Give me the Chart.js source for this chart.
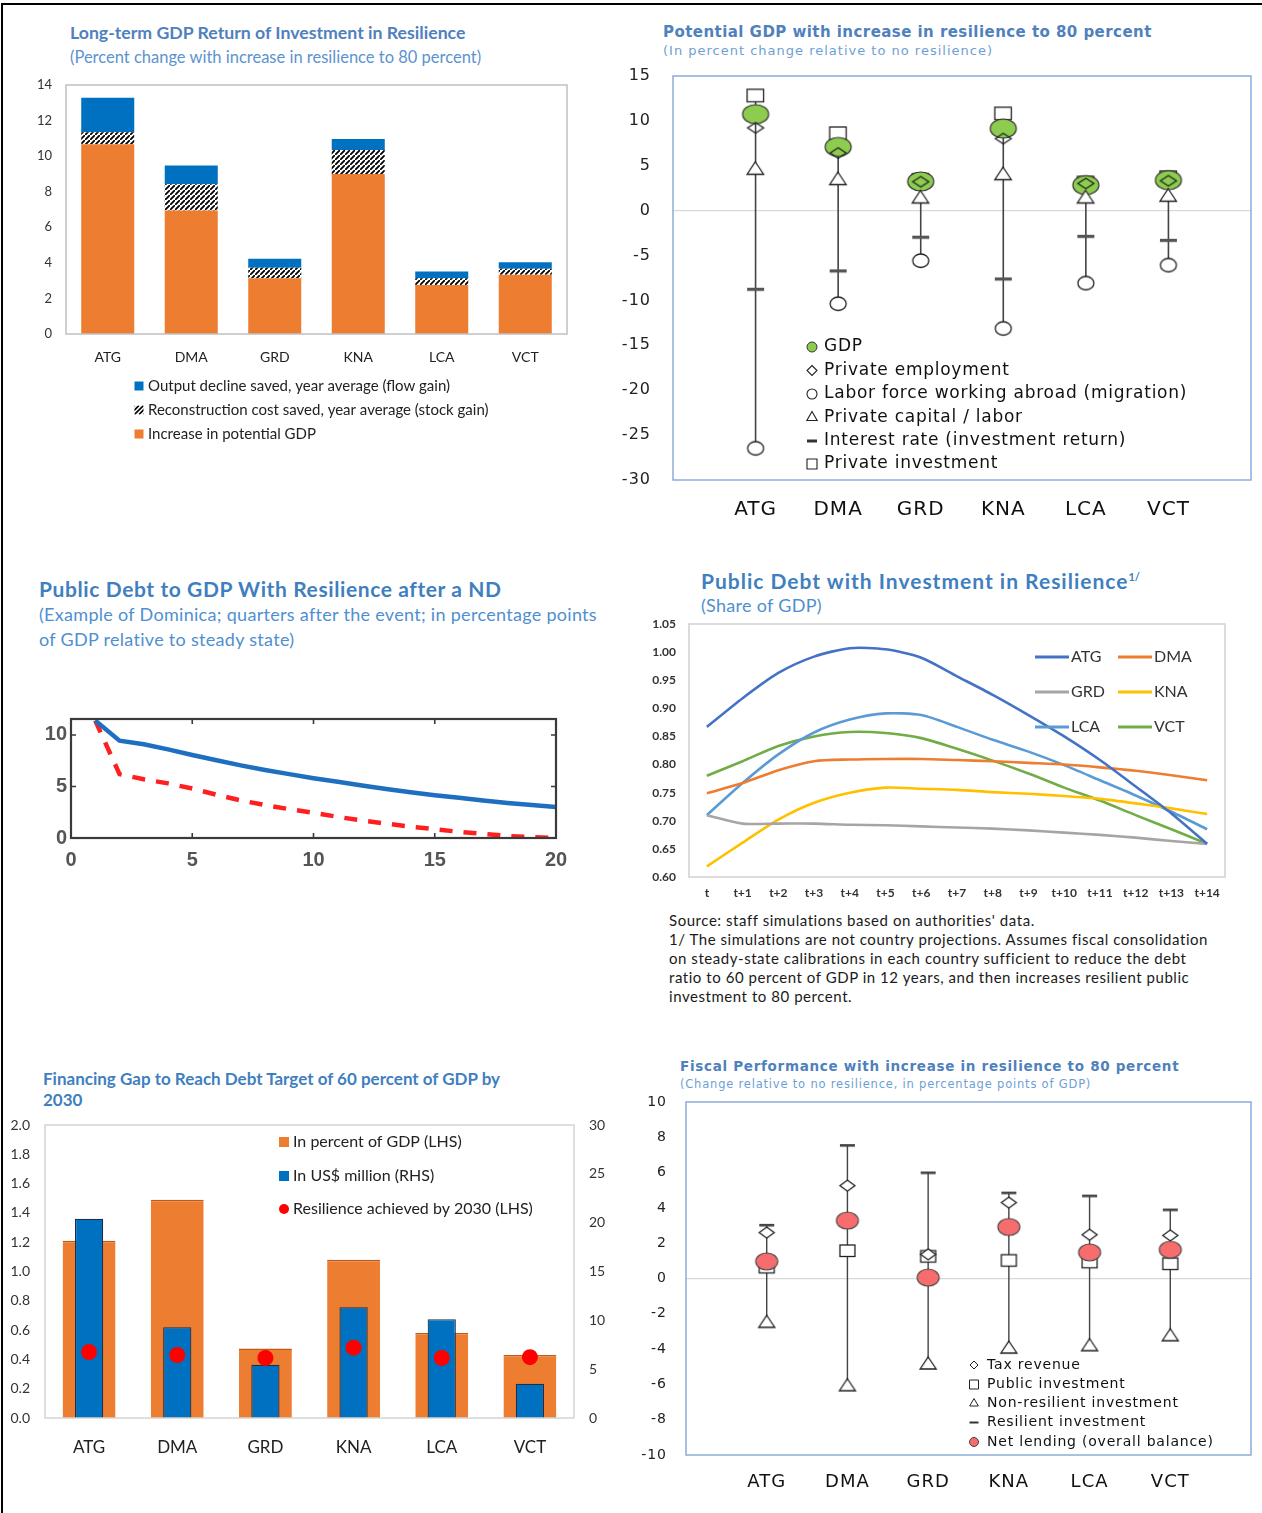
<!DOCTYPE html>
<html><head><meta charset="utf-8">
<title>Resilience charts</title>
<script src="https://cdn.jsdelivr.net/npm/chart.js@4.4.1/dist/chart.umd.min.js"></script>
<style>
html,body{margin:0;padding:0;background:#fff;}
body{width:1262px;height:1513px;position:relative;overflow:hidden;font-family:Lato,sans-serif;}
#frame{position:absolute;left:1px;top:3px;width:1280px;height:1530px;border-left:2px solid #000;border-top:2px solid #000;pointer-events:none;}
canvas{position:absolute;}
.t{position:absolute;white-space:nowrap;margin:0;}
</style></head><body>
<div id="frame"></div>

<div class="t" style="left:70px;top:22px;font:bold 17.7px/22px Lato,sans-serif;color:#4f81bd;">Long-term GDP Return of Investment in Resilience</div>
<div class="t" style="left:70px;top:47px;font:16.5px/20px Lato,sans-serif;color:#5b93cf;">(Percent change with increase in resilience to 80 percent)</div>

<div class="t" style="left:663px;top:23px;font:bold 15px/18px 'DejaVu Sans',sans-serif;letter-spacing:0.45px;color:#4f81bd;">Potential GDP with increase in resilience to 80 percent</div>
<div class="t" style="left:663px;top:43px;font:13px/16px 'DejaVu Sans',sans-serif;letter-spacing:1px;color:#6e9fd3;">(In percent change relative to no resilience)</div>

<div class="t" style="left:39px;top:576px;font:bold 21px/26px Lato,sans-serif;letter-spacing:0.6px;color:#3f7fc0;">Public Debt to GDP With Resilience after a ND</div>
<div class="t" style="left:39px;top:602px;font:18px/25px Lato,sans-serif;letter-spacing:0.3px;color:#4f8fd0;">(Example of Dominica; quarters after the event; in percentage points<br>of GDP relative to steady state)</div>

<div class="t" style="left:701px;top:568px;font:bold 21px/26px Lato,sans-serif;letter-spacing:1px;color:#3f7fc0;">Public Debt with Investment in Resilience<span style="font-size:11px;position:relative;top:-8px;letter-spacing:0;">1/</span></div>
<div class="t" style="left:701px;top:594px;font:18px/22px Lato,sans-serif;letter-spacing:0.3px;color:#4f8fd0;">(Share of GDP)</div>
<div class="t" style="left:669px;top:911px;font:15px/19px Lato,sans-serif;letter-spacing:0.55px;color:#1a1a1a;">Source: staff simulations based on authorities' data.<br>1/ The simulations are not country projections. Assumes fiscal consolidation<br>on steady-state calibrations in each country sufficient to reduce the debt<br>ratio to 60 percent of GDP in 12 years, and then increases resilient public<br>investment to 80 percent.</div>

<div class="t" style="left:43px;top:1068px;font:bold 17px/21px Lato,sans-serif;color:#3f7fc0;">Financing Gap to Reach Debt Target of 60 percent of GDP by<br>2030</div>

<div class="t" style="left:680px;top:1058px;font:bold 13.5px/17px 'DejaVu Sans',sans-serif;letter-spacing:0.7px;color:#4f81bd;">Fiscal Performance with increase in resilience to 80 percent</div>
<div class="t" style="left:680px;top:1077px;font:11.5px/14px 'DejaVu Sans',sans-serif;letter-spacing:0.8px;color:#6e9fd3;">(Change relative to no resilience, in percentage points of GDP)</div>

<script>
// ---------------- DATA ----------------
const countries = ['ATG','DMA','GRD','KNA','LCA','VCT'];

// Chart 1: Long-term GDP return (percent)
const increasePotentialGDP = [10.67, 6.94, 3.13, 9.00, 2.75, 3.33];
const reconstructionCostSaved = [0.67, 1.48, 0.60, 1.35, 0.39, 0.34];
const outputDeclineSaved = [1.95, 1.05, 0.50, 0.62, 0.37, 0.37];
const returnTicks = [0, 2, 4, 6, 8, 10, 12, 14];

// Chart 2: Potential GDP with increase in resilience (percent change)
const potGDP = [10.75, 7.1, 3.25, 9.15, 2.85, 3.4];
const privateEmployment = [9.2, 6.4, 3.2, 8.0, 3.0, 3.3];
const laborAbroad = [-26.5, -10.4, -5.6, -13.15, -8.1, -6.1];
const capitalPerLabor = [4.5, 3.35, 1.3, 3.9, 1.3, 1.5];
const interestRate = [-8.75, -6.7, -2.95, -7.6, -2.85, -3.3];
const privateInvestment = [12.8, 8.6, 3.4, 10.8, 3.1, 3.7];
const potTicks = [-30, -25, -20, -15, -10, -5, 0, 5, 10, 15];

// Chart 3: Dominica public debt after a ND (quarters)
const quarters = [1, 2, 3, 4, 5, 6, 7, 8, 9, 10, 11, 12, 13, 14, 15, 16, 17, 18, 19, 20];
const debtNoResilience = [11.4, 9.45, 9.1, 8.6, 8.05, 7.55, 7.05, 6.6, 6.2, 5.8, 5.45, 5.1, 4.75, 4.45, 4.15, 3.9, 3.65, 3.4, 3.2, 3.0];
const debtWithResilience = [11.4, 6.2, 5.7, 5.3, 4.8, 4.2, 3.65, 3.2, 2.8, 2.45, 2.05, 1.7, 1.4, 1.1, 0.85, 0.6, 0.4, 0.2, 0.08, 0.0];
const quarterTicks = [0, 5, 10, 15, 20];
const ndTicks = [0, 5, 10];

// Chart 4: Public debt with investment in resilience (share of GDP)
const periods = ['t','t+1','t+2','t+3','t+4','t+5','t+6','t+7','t+8','t+9','t+10','t+11','t+12','t+13','t+14'];
const debtATG = [0.867, 0.918, 0.963, 0.992, 1.007, 1.005, 0.990, 0.957, 0.924, 0.888, 0.850, 0.808, 0.761, 0.713, 0.659];
const debtDMA = [0.749, 0.767, 0.790, 0.806, 0.809, 0.810, 0.810, 0.808, 0.806, 0.803, 0.800, 0.795, 0.789, 0.781, 0.772];
const debtGRD = [0.710, 0.695, 0.695, 0.695, 0.693, 0.692, 0.690, 0.688, 0.686, 0.683, 0.679, 0.675, 0.670, 0.664, 0.659];
const debtKNA = [0.619, 0.661, 0.702, 0.732, 0.750, 0.759, 0.757, 0.755, 0.751, 0.748, 0.744, 0.739, 0.731, 0.722, 0.712];
const debtLCA = [0.710, 0.767, 0.818, 0.857, 0.880, 0.891, 0.888, 0.867, 0.844, 0.823, 0.799, 0.772, 0.745, 0.716, 0.685];
const debtVCT = [0.780, 0.806, 0.833, 0.850, 0.858, 0.856, 0.847, 0.828, 0.807, 0.784, 0.759, 0.736, 0.710, 0.685, 0.659];
const shareTicks = [0.60, 0.65, 0.70, 0.75, 0.80, 0.85, 0.90, 0.95, 1.00, 1.05];

// Chart 5: Financing gap
const gapPctGDP = [1.21, 1.49, 0.475, 1.08, 0.58, 0.43];
const gapUSDm = [20.4, 9.3, 5.45, 11.35, 10.1, 3.5];
const resilience2030 = [0.45, 0.43, 0.41, 0.48, 0.41, 0.415];
const gapLTicks = [0, 0.2, 0.4, 0.6, 0.8, 1.0, 1.2, 1.4, 1.6, 1.8, 2.0];
const gapRTicks = [0, 5, 10, 15, 20, 25, 30];

// Chart 6: Fiscal performance (pp of GDP)
const taxRevenue = [2.6, 5.26, 1.37, 4.3, 2.48, 2.44];
const publicInvestment = [0.63, 1.56, 1.24, 1.01, 0.92, 0.82];
const nonResilientInv = [-2.54, -6.13, -4.9, -4.0, -3.86, -3.3];
const resilientInv = [3.01, 7.53, 5.98, 4.84, 4.67, 3.88];
const netLending = [0.97, 3.28, 0.05, 2.92, 1.48, 1.63];
const fiscalTicks = [-10, -8, -6, -4, -2, 0, 2, 4, 6, 8, 10];

// ---------------- HELPERS ----------------
Chart.defaults.animation = false;
Chart.defaults.responsive = false;
Chart.defaults.maintainAspectRatio = false;
Chart.defaults.plugins.legend.display = false;
Chart.defaults.plugins.tooltip.enabled = false;
Chart.defaults.font.family = 'Lato, sans-serif';
Chart.defaults.color = '#333';

function mk(l, t, w, h) {
  const c = document.createElement('canvas');
  c.width = w; c.height = h;
  c.style.left = l + 'px'; c.style.top = t + 'px';
  c.style.width = w + 'px'; c.style.height = h + 'px';
  document.body.appendChild(c);
  return c;
}
const tickSetter = arr => (ax) => { ax.ticks = arr.map(v => ({ value: v })); };
const fixW = w => s => { s.width = w; s.paddingTop = 0; s.paddingBottom = 0; };
const fixH = h => s => { s.height = h; s.paddingLeft = 0; s.paddingRight = 0; };
const xy = arr => arr.map((v, i) => ({ x: i + 1, y: v }));
function hiLo(list) {
  const out = [];
  countries.forEach((c, i) => {
    const vals = list.map(a => a[i]);
    out.push({ x: i + 1, y: Math.max(...vals) }, { x: i + 1, y: Math.min(...vals) }, { x: i + 1, y: null });
  });
  return out;
}
function hatchPattern() {
  const s = 5;
  const c = document.createElement('canvas'); c.width = s; c.height = s;
  const g = c.getContext('2d');
  g.fillStyle = '#fff'; g.fillRect(0, 0, s, s);
  g.strokeStyle = '#000'; g.lineWidth = 1.8;
  g.beginPath();
  g.moveTo(-1, s + 1); g.lineTo(s + 1, -1);
  g.moveTo(-s - 1, 1); g.lineTo(1, -s - 1);
  g.moveTo(s - 1, 2 * s + 1); g.lineTo(2 * s + 1, s - 1);
  g.stroke();
  return g.createPattern(c, 'repeat');
}
// marker images (the original markers are slightly wider than tall)
function mkMarker(w, h, fn, extraBottom) {
  const p = 2, c = document.createElement('canvas');
  c.width = Math.round(w + 2 * p); c.height = Math.round(h + 2 * p + (extraBottom || 0));
  const g = c.getContext('2d'); g.translate(p, p); fn(g, w, h); return c;
}
const ellipseM = (w, h, fill, stroke, lw) => mkMarker(w, h, g => { g.beginPath(); g.ellipse(w / 2, h / 2, w / 2, h / 2, 0, 0, Math.PI * 2); g.fillStyle = fill; g.fill(); g.lineWidth = lw || 1.1; g.strokeStyle = stroke; g.stroke(); });
const diamondM = (w, h, fill) => mkMarker(w, h, g => { g.beginPath(); g.moveTo(w / 2, 0); g.lineTo(w, h / 2); g.lineTo(w / 2, h); g.lineTo(0, h / 2); g.closePath(); if (fill) { g.fillStyle = fill; g.fill(); } g.lineWidth = 1.3; g.strokeStyle = '#222'; g.stroke(); });
const squareM = (w, h, fill) => mkMarker(w, h, g => { if (fill) { g.fillStyle = fill; g.fillRect(0, 0, w, h); } g.lineWidth = 1.3; g.strokeStyle = '#222'; g.strokeRect(0, 0, w, h); });
const triangleM = (w, h, fill) => mkMarker(w, h, g => { g.beginPath(); g.moveTo(w / 2, 0); g.lineTo(w, h); g.lineTo(0, h); g.closePath(); if (fill) { g.fillStyle = fill; g.fill(); } g.lineWidth = 1.3; g.strokeStyle = '#222'; g.stroke(); }, h / 3);
const dashM = (w, t, color) => mkMarker(w, t, g => { g.fillStyle = color; g.fillRect(0, 0, w, t); });

function drawSym(ctx, s, x, y) {
  ctx.save();
  ctx.lineWidth = s.lw || 1;
  ctx.strokeStyle = s.stroke || '#000';
  ctx.fillStyle = s.fill || 'rgba(255,255,255,0)';
  const r = s.r || 5;
  ctx.beginPath();
  switch (s.type) {
    case 'sq': ctx.fillRect(x - r, y - r, 2 * r, 2 * r); break;
    case 'hatch':
      ctx.fillStyle = '#fff'; ctx.fillRect(x - r, y - r, 2 * r, 2 * r);
      ctx.save(); ctx.beginPath(); ctx.rect(x - r, y - r, 2 * r, 2 * r); ctx.clip();
      ctx.beginPath();
      for (let k = -2 * r; k <= 2 * r; k += 4.5) { ctx.moveTo(x - r + k, y + r); ctx.lineTo(x + r + k, y - r); }
      ctx.strokeStyle = '#000'; ctx.lineWidth = 1.6; ctx.stroke(); ctx.restore();
      break;
    case 'circle': ctx.arc(x, y, r, 0, Math.PI * 2); ctx.fill(); if (s.lw) ctx.stroke(); break;
    case 'diamond': ctx.moveTo(x, y - r); ctx.lineTo(x + r, y); ctx.lineTo(x, y + r); ctx.lineTo(x - r, y); ctx.closePath(); ctx.fill(); ctx.stroke(); break;
    case 'triangle': ctx.moveTo(x, y - r); ctx.lineTo(x + r * 0.866, y + r / 2); ctx.lineTo(x - r * 0.866, y + r / 2); ctx.closePath(); ctx.fill(); ctx.stroke(); break;
    case 'rect': ctx.rect(x - r, y - r, 2 * r, 2 * r); ctx.fill(); ctx.stroke(); break;
    case 'dash': ctx.moveTo(x - r, y); ctx.lineTo(x + r, y); ctx.stroke(); break;
    case 'line': ctx.moveTo(x, y); ctx.lineTo(x + s.len, y); ctx.stroke(); break;
  }
  ctx.restore();
}
function legendPlugin(cl, ct, font, color, items, spacing) {
  return {
    id: 'customLegend',
    afterDraw(chart) {
      const ctx = chart.ctx;
      ctx.save();
      items.forEach(it => {
        drawSym(ctx, it.sym, it.sx - cl, it.y - ct);
        ctx.font = font; ctx.fillStyle = color; ctx.textBaseline = 'middle'; ctx.textAlign = 'left';
        ctx.letterSpacing = (spacing || 0) + 'px';
        ctx.fillText(it.text, it.tx - cl, it.y - ct);
      });
      ctx.restore();
    }
  };
}
function spacingPlugin(px) {
  return {
    id: 'spacing',
    beforeUpdate(chart) { chart.ctx.letterSpacing = px + 'px'; },
    beforeDraw(chart) { chart.ctx.letterSpacing = px + 'px'; },
    afterDatasetsDraw(chart) { chart.ctx.letterSpacing = px + 'px'; }
  };
}
function boxPlugin(color, width) {
  return {
    id: 'box',
    afterDatasetsDraw(chart) {
      const a = chart.chartArea, c = chart.ctx;
      c.save(); c.strokeStyle = color; c.lineWidth = width;
      c.strokeRect(a.left, a.top, a.right - a.left, a.bottom - a.top);
      c.restore();
    }
  };
}
const matlabTicks = {
  id: 'matlabTicks',
  afterDatasetsDraw(chart) {
    const { ctx, chartArea: a, scales: { x, y } } = chart;
    ctx.save(); ctx.strokeStyle = '#3a3a3a'; ctx.lineWidth = 1.6; ctx.beginPath();
    x.ticks.forEach(t => {
      if (t.value <= x.min || t.value >= x.max) return;
      const p = x.getPixelForValue(t.value);
      ctx.moveTo(p, a.bottom); ctx.lineTo(p, a.bottom - 5);
      ctx.moveTo(p, a.top); ctx.lineTo(p, a.top + 5);
    });
    y.ticks.forEach(t => {
      if (t.value <= y.min || t.value >= y.max) return;
      const p = y.getPixelForValue(t.value);
      ctx.moveTo(a.left, p); ctx.lineTo(a.left + 5, p);
      ctx.moveTo(a.right, p); ctx.lineTo(a.right - 5, p);
    });
    ctx.stroke(); ctx.restore();
  }
};
const noGrid = { display: false, drawTicks: false };
const noBorder = { display: false };
const zeroGrid = { drawTicks: false, lineWidth: 1.3, color: (c) => (c.tick && c.tick.value === 0) ? '#d9d9d9' : 'rgba(0,0,0,0)' };
const catTickX = {
  type: 'linear', min: 0, max: 7,
  afterBuildTicks: (ax) => { ax.ticks = countries.map((c, i) => ({ value: i + 1 })); },
  grid: noGrid, border: noBorder
};

// ---------------- CHART 1 ----------------
(function () {
  const L = 0, T = 70;
  new Chart(mk(L, T, 590, 380), {
    type: 'bar',
    data: {
      labels: countries,
      datasets: [
        { label: 'Increase in potential GDP', data: increasePotentialGDP, backgroundColor: '#ed7d31' },
        { label: 'Reconstruction cost saved, year average (stock gain)', data: reconstructionCostSaved, backgroundColor: hatchPattern() },
        { label: 'Output decline saved, year average (flow gain)', data: outputDeclineSaved, backgroundColor: '#0070c0' }
      ]
    },
    options: {
      layout: { padding: { top: 15, right: 23, bottom: 80, left: 0 } },
      datasets: { bar: { categoryPercentage: 1, barPercentage: 0.635 } },
      scales: {
        x: { stacked: true, grid: noGrid, border: noBorder, ticks: { padding: 15, font: { size: 14 }, color: '#222' }, afterFit: fixH(36) },
        y: { stacked: true, min: 0, max: 14, afterBuildTicks: tickSetter(returnTicks), grid: noGrid, border: noBorder, ticks: { padding: 14, font: { size: 13 }, color: '#333' }, afterFit: fixW(66) }
      }
    },
    plugins: [boxPlugin('#c0c0c0', 1.5), legendPlugin(L, T, '15px Lato, sans-serif', '#222', [
      { sym: { type: 'sq', r: 4.5, fill: '#0070c0' }, sx: 139, tx: 148, y: 386, text: 'Output decline saved, year average (flow gain)' },
      { sym: { type: 'hatch', r: 4.5 }, sx: 139, tx: 148, y: 410, text: 'Reconstruction cost saved, year average (stock gain)' },
      { sym: { type: 'sq', r: 4.5, fill: '#ed7d31' }, sx: 139, tx: 148, y: 434, text: 'Increase in potential GDP' }
    ])]
  });
})();

// ---------------- CHART 2 ----------------
(function () {
  const L = 610, T = 60;
  const pt = (img, r) => ({ pointStyle: img, pointRadius: r, pointBorderWidth: 0 });
  new Chart(mk(L, T, 652, 470), {
    type: 'scatter',
    data: {
      datasets: [
        { label: 'range', data: hiLo([potGDP, privateEmployment, laborAbroad, capitalPerLabor, interestRate, privateInvestment]), showLine: true, borderColor: '#444', borderWidth: 1.6, pointRadius: 0, order: 10 },
        Object.assign({ label: 'GDP', data: xy(potGDP), order: 4 }, pt(ellipseM(26, 19, '#8dcc4e', '#333', 1.2), 10)),
        Object.assign({ label: 'Private employment', data: xy(privateEmployment), order: 1 }, pt(diamondM(16, 10.5, null), 6)),
        Object.assign({ label: 'Labor force working abroad (migration)', data: xy(laborAbroad), order: 1 }, pt(ellipseM(16, 13.5, '#fff', '#222', 1.3), 7)),
        Object.assign({ label: 'Private capital / labor', data: xy(capitalPerLabor), order: 1 }, pt(triangleM(16.5, 12.5, '#fff'), 7)),
        Object.assign({ label: 'Interest rate (investment return)', data: xy(interestRate), order: 1 }, pt(dashM(17, 3.2, '#555'), 7)),
        Object.assign({ label: 'Private investment', data: xy(privateInvestment), order: 5 }, pt(squareM(16.5, 12.5, '#fff'), 7))
      ]
    },
    options: {
      layout: { padding: { top: 16, right: 11, bottom: 10, left: 0 } },
      scales: {
        x: Object.assign({}, catTickX, { ticks: { callback: v => countries[v - 1], padding: 18, autoSkip: false, maxRotation: 0, font: { family: "'DejaVu Sans', sans-serif", size: 20 }, color: '#111' }, afterFit: fixH(40) }),
        y: { min: -30, max: 15, afterBuildTicks: tickSetter(potTicks), grid: zeroGrid, border: noBorder, ticks: { padding: 22, font: { family: "'DejaVu Sans', sans-serif", size: 16 }, color: '#222' }, afterFit: fixW(63) }
      }
    },
    plugins: [spacingPlugin(1), boxPlugin('#8eaadb', 1.5), legendPlugin(L, T, "17px 'DejaVu Sans', sans-serif", '#111', [
      { sym: { type: 'circle', r: 5, fill: '#8dcc4e', stroke: '#333', lw: 1 }, sx: 812, tx: 824, y: 347, text: 'GDP' },
      { sym: { type: 'diamond', r: 5, stroke: '#222', lw: 1.1 }, sx: 812, tx: 824, y: 370.5, text: 'Private employment' },
      { sym: { type: 'circle', r: 5, stroke: '#222', lw: 1.1 }, sx: 812, tx: 824, y: 394, text: 'Labor force working abroad (migration)' },
      { sym: { type: 'triangle', r: 6, stroke: '#222', lw: 1.1 }, sx: 812, tx: 824, y: 417.5, text: 'Private capital / labor' },
      { sym: { type: 'dash', r: 5, stroke: '#333', lw: 3 }, sx: 812, tx: 824, y: 441, text: 'Interest rate (investment return)' },
      { sym: { type: 'rect', r: 5, stroke: '#222', lw: 1.1 }, sx: 812, tx: 824, y: 464, text: 'Private investment' }
    ], 0.75)]
  });
})();

// ---------------- CHART 3 ----------------
(function () {
  const tickFont = { family: "'Liberation Sans Narrow', 'Liberation Sans', sans-serif", size: 20, weight: 'bold' };
  new Chart(mk(0, 700, 600, 190), {
    type: 'line',
    data: {
      datasets: [
        { label: 'Without resilience', data: quarters.map((q, i) => ({ x: q, y: debtNoResilience[i] })), borderColor: '#1f6fc1', borderWidth: 4.5, pointRadius: 0, tension: 0 },
        { label: 'With resilience', data: quarters.map((q, i) => ({ x: q, y: debtWithResilience[i] })), borderColor: '#ff1f1f', borderWidth: 4.5, borderDash: [13, 11], pointRadius: 0, tension: 0 }
      ]
    },
    options: {
      layout: { padding: { top: 19, right: 44, bottom: 22, left: 0 } },
      scales: {
        x: { type: 'linear', min: 0, max: 20, afterBuildTicks: tickSetter(quarterTicks), grid: noGrid, border: noBorder, ticks: { padding: 10, font: tickFont, color: '#555' }, afterFit: fixH(30) },
        y: { min: 0, max: 11.55, afterBuildTicks: tickSetter(ndTicks), grid: noGrid, border: noBorder, ticks: { padding: 4, font: tickFont, color: '#555' }, afterFit: fixW(71) }
      }
    },
    plugins: [boxPlugin('#3a3a3a', 2.2), matlabTicks]
  });
})();

// ---------------- CHART 4 ----------------
(function () {
  const L = 640, T = 615;
  const cols = { ATG: '#4472c4', DMA: '#ed7d31', GRD: '#a5a5a5', KNA: '#ffc000', LCA: '#5b9bd5', VCT: '#70ad47' };
  const series = [['ATG', debtATG], ['DMA', debtDMA], ['GRD', debtGRD], ['KNA', debtKNA], ['LCA', debtLCA], ['VCT', debtVCT]];
  const tf = { size: 12, weight: 'bold' };
  new Chart(mk(L, T, 600, 295), {
    type: 'line',
    data: {
      labels: periods,
      datasets: series.map(([n, d]) => ({ label: n, data: d, borderColor: cols[n], borderWidth: 2.6, pointRadius: 0, tension: 0.25 }))
    },
    options: {
      layout: { padding: { top: 9, right: 15, bottom: 7, left: 0 } },
      scales: {
        x: { offset: true, grid: noGrid, border: noBorder, ticks: { padding: 9, autoSkip: false, maxRotation: 0, font: tf, color: '#333' }, afterFit: fixH(26) },
        y: { min: 0.6, max: 1.05, afterBuildTicks: tickSetter(shareTicks), grid: noGrid, border: noBorder, ticks: { padding: 13, callback: v => v.toFixed(2), font: tf, color: '#333' }, afterFit: fixW(49) }
      }
    },
    plugins: [boxPlugin('#d0d0d0', 1.5), legendPlugin(L, T, '16px Lato, sans-serif', '#333', [
      { sym: { type: 'line', len: 34, stroke: cols.ATG, lw: 3 }, sx: 1035, tx: 1071, y: 657, text: 'ATG' },
      { sym: { type: 'line', len: 34, stroke: cols.DMA, lw: 3 }, sx: 1118, tx: 1154, y: 657, text: 'DMA' },
      { sym: { type: 'line', len: 34, stroke: cols.GRD, lw: 3 }, sx: 1035, tx: 1071, y: 692, text: 'GRD' },
      { sym: { type: 'line', len: 34, stroke: cols.KNA, lw: 3 }, sx: 1118, tx: 1154, y: 692, text: 'KNA' },
      { sym: { type: 'line', len: 34, stroke: cols.LCA, lw: 3 }, sx: 1035, tx: 1071, y: 727, text: 'LCA' },
      { sym: { type: 'line', len: 34, stroke: cols.VCT, lw: 3 }, sx: 1118, tx: 1154, y: 727, text: 'VCT' }
    ])]
  });
})();

// ---------------- CHART 5 ----------------
(function () {
  const L = 0, T = 1110;
  new Chart(mk(L, T, 620, 360), {
    type: 'bar',
    data: {
      labels: countries,
      datasets: [
        { type: 'line', label: 'Resilience achieved by 2030 (LHS)', data: resilience2030, showLine: false, pointRadius: 8, pointBackgroundColor: '#ff0000', backgroundColor: '#ff0000', pointBorderWidth: 0, yAxisID: 'y', order: 0 },
        { label: 'In US$ million (RHS)', data: gapUSDm, backgroundColor: '#0070c0', borderColor: '#1b2f4a', borderWidth: 1.2, yAxisID: 'y1', barPercentage: 0.32, categoryPercentage: 1, grouped: false, order: 1 },
        { label: 'In percent of GDP (LHS)', data: gapPctGDP, backgroundColor: '#ed7d31', borderColor: '#c05a18', borderWidth: { top: 1.5, left: 0, right: 0, bottom: 0 }, yAxisID: 'y', barPercentage: 0.6, categoryPercentage: 1, grouped: false, order: 2 }
      ]
    },
    options: {
      layout: { padding: { top: 15, right: 0, bottom: 12, left: 0 } },
      scales: {
        x: { grid: noGrid, border: noBorder, ticks: { padding: 19, font: { size: 17 }, color: '#222' }, afterFit: fixH(40) },
        y: { position: 'left', min: 0, max: 2, afterBuildTicks: tickSetter(gapLTicks), grid: noGrid, border: noBorder, ticks: { padding: 15, callback: v => v.toFixed(1), font: { size: 14 }, color: '#333' }, afterFit: fixW(45) },
        y1: { position: 'right', min: 0, max: 30, afterBuildTicks: tickSetter(gapRTicks), grid: noGrid, border: noBorder, ticks: { padding: 15, font: { size: 14 }, color: '#333' }, afterFit: fixW(46) }
      }
    },
    plugins: [boxPlugin('#d4d4d4', 1.5), legendPlugin(L, T, '16px Lato, sans-serif', '#222', [
      { sym: { type: 'sq', r: 5, fill: '#ed7d31' }, sx: 284, tx: 293, y: 1142, text: 'In percent of GDP (LHS)' },
      { sym: { type: 'sq', r: 5, fill: '#0070c0' }, sx: 284, tx: 293, y: 1176, text: 'In US$ million (RHS)' },
      { sym: { type: 'circle', r: 5, fill: '#ff0000' }, sx: 284, tx: 293, y: 1209, text: 'Resilience achieved by 2030 (LHS)' }
    ])]
  });
})();

// ---------------- CHART 6 ----------------
(function () {
  const L = 620, T = 1090;
  const pt = (img, r) => ({ pointStyle: img, pointRadius: r, pointBorderWidth: 0 });
  new Chart(mk(L, T, 642, 410), {
    type: 'scatter',
    data: {
      datasets: [
        { label: 'range', data: hiLo([taxRevenue, publicInvestment, nonResilientInv, resilientInv, netLending]), showLine: true, borderColor: '#444', borderWidth: 1.4, pointRadius: 0, order: 10 },
        Object.assign({ label: 'Tax revenue', data: xy(taxRevenue), order: 2 }, pt(diamondM(15, 11, '#fff'), 6)),
        Object.assign({ label: 'Public investment', data: xy(publicInvestment), order: 4 }, pt(squareM(15, 11.5, '#fff'), 6)),
        Object.assign({ label: 'Non-resilient investment', data: xy(nonResilientInv), order: 2 }, pt(triangleM(16, 12, '#fff'), 6)),
        Object.assign({ label: 'Resilient investment', data: xy(resilientInv), order: 2 }, pt(dashM(15, 2.6, '#444'), 6)),
        Object.assign({ label: 'Net lending (overall balance)', data: xy(netLending), order: 1 }, pt(ellipseM(22, 17, '#f76d6d', '#444', 1.1), 9))
      ]
    },
    options: {
      layout: { padding: { top: 12, right: 11, bottom: 7, left: 0 } },
      scales: {
        x: Object.assign({}, catTickX, { ticks: { callback: v => countries[v - 1], padding: 17, autoSkip: false, maxRotation: 0, font: { family: "'DejaVu Sans', sans-serif", size: 18 }, color: '#111' }, afterFit: fixH(38) }),
        y: { min: -10, max: 10, afterBuildTicks: tickSetter(fiscalTicks), grid: zeroGrid, border: noBorder, ticks: { padding: 19, font: { family: "'DejaVu Sans', sans-serif", size: 14 }, color: '#222' }, afterFit: fixW(66) }
      }
    },
    plugins: [spacingPlugin(1), boxPlugin('#8eaadb', 1.5), legendPlugin(L, T, "14px 'DejaVu Sans', sans-serif", '#111', [
      { sym: { type: 'diamond', r: 4, stroke: '#222', lw: 1 }, sx: 974, tx: 987, y: 1365, text: 'Tax revenue' },
      { sym: { type: 'rect', r: 4.5, stroke: '#222', lw: 1 }, sx: 974, tx: 987, y: 1384.5, text: 'Public investment' },
      { sym: { type: 'triangle', r: 5, stroke: '#222', lw: 1 }, sx: 974, tx: 987, y: 1403.5, text: 'Non-resilient investment' },
      { sym: { type: 'dash', r: 4.5, stroke: '#333', lw: 2 }, sx: 974, tx: 987, y: 1422.5, text: 'Resilient investment' },
      { sym: { type: 'circle', r: 4.5, fill: '#f76d6d', stroke: '#444', lw: 1 }, sx: 974, tx: 987, y: 1442, text: 'Net lending (overall balance)' }
    ], 0.8)]
  });
})();
</script>
</body></html>
